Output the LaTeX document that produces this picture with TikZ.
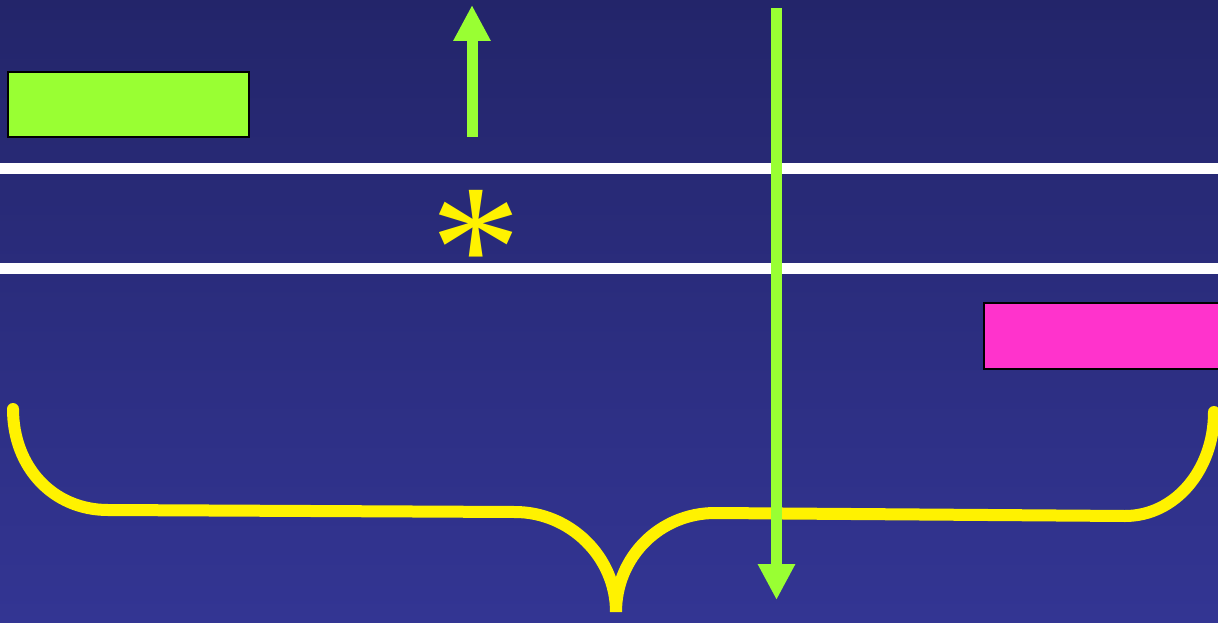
\documentclass[tikz,border=0pt]{standalone}
\usepackage{tikz}
\usepackage{fontspec}
\usetikzlibrary{arrows.meta}
\newfontfamily\starfont{Liberation Serif}
\definecolor{bgtop}{RGB}{35,37,106}
\definecolor{bgbot}{RGB}{51,53,147}
\definecolor{lime}{RGB}{153,255,51}
\definecolor{pink}{RGB}{255,51,204}
\tikzset{box/.style={draw=black,line width=1.5pt,rectangle,inner sep=0pt},bar/.style={white,line width=11pt},arr/.style={lime,line width=11pt,-{Triangle[width=35pt,length=36pt]}},brc/.style={yellow,line width=12pt,line cap=round}}
\begin{document}
\begin{tikzpicture}[x=1pt,y=-1pt]
\clip(0,0)rectangle(1218,623);
\shade[top color=bgtop,bottom color=bgbot](0,0)rectangle(1218,623);
\foreach\y in{168,268}\draw[bar](0,\y)--(1218,\y);
\node[box,fill=lime,minimum width=241pt,minimum height=65pt](gbox)at(128.5,104.5){};
\node[box,fill=pink,minimum width=260pt,minimum height=66pt](pbox)at(1114,336){};
\node[yellow,inner sep=0pt,font=\starfont\fontsize{182}{182}\selectfont](star)at(476,250){*};
\coordinate(u0)at(472,137);\coordinate(u1)at(472,5);
\coordinate(d0)at(776.5,8);\coordinate(d1)at(776.5,600);
\draw[brc](13,409)..controls(13,467)and(53,510)..(108,510)--(515,512)..controls(570,512)and(616,557)..(616,612)..controls(616,557)and(660,513)..(715,513)--(1125,516)..controls(1175,516)and(1214,470)..(1214,412);
\draw[arr](u0)--(u1);
\draw[arr](d0)--(d1);
\end{tikzpicture}
\end{document}
